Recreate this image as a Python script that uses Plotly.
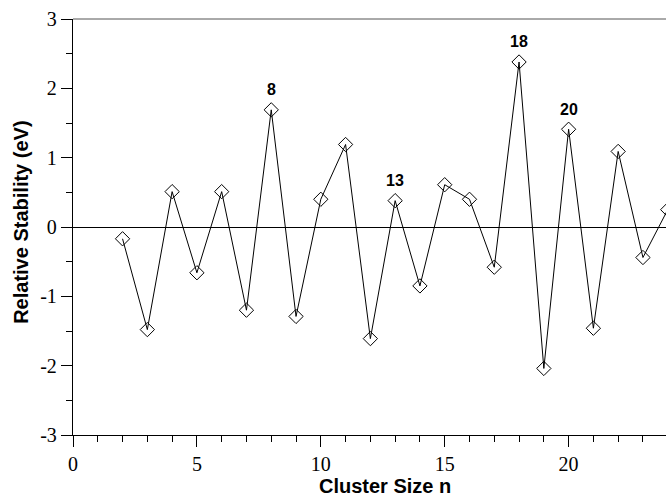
import plotly.graph_objects as go

# Cluster sizes and their relative stabilities (eV)
cluster_size = [2, 3, 4, 5, 6, 7, 8, 9, 10, 11, 12, 13, 14, 15, 16, 17, 18, 19, 20, 21, 22, 23, 24]
relative_stability = [-0.17, -1.48, 0.51, -0.66, 0.51, -1.20, 1.69, -1.29, 0.40, 1.19,
                      -1.61, 0.38, -0.85, 0.61, 0.40, -0.58, 2.38, -2.04, 1.41, -1.46,
                      1.09, -0.44, 0.25]

# Magic-number clusters that get a label above their marker
magic_sizes = [8, 13, 18, 20]

x_ticks = [0, 5, 10, 15, 20]
y_ticks = [-3, -2, -1, 0, 1, 2, 3]

fig = go.Figure()
fig.add_trace(go.Scatter(
    x=cluster_size, y=relative_stability,
    mode="lines+markers",
    line=dict(color="black", width=1),
    marker=dict(symbol="diamond-open", size=11, color="black", line=dict(width=1)),
    showlegend=False,
))

label_font = dict(family="Liberation Sans", size=16, color="black")
for n in magic_sizes:
    v = relative_stability[cluster_size.index(n)]
    fig.add_annotation(
        x=n, y=v, text=f"<b>{n}</b>", showarrow=False,
        yshift=20, font=label_font,
    )

tick_font = dict(family="Liberation Serif", size=20, color="black")

fig.update_xaxes(
    range=[0, 23.93],
    tickmode="array", tickvals=x_ticks, ticktext=[str(t) for t in x_ticks],
    ticks="outside", ticklen=11, tickwidth=1, tickcolor="black",
    minor=dict(dtick=1, ticks="outside", ticklen=6, tickwidth=1, tickcolor="black", showgrid=False),
    showline=True, linecolor="black", linewidth=1.3,
    showgrid=False, zeroline=False,
    tickfont=tick_font,
)
fig.update_yaxes(
    range=[-3, 3],
    tickmode="array", tickvals=y_ticks, ticktext=[str(t) for t in y_ticks],
    ticks="outside", ticklen=11, tickwidth=1, tickcolor="black",
    minor=dict(dtick=0.5, ticks="outside", ticklen=6, tickwidth=1, tickcolor="black", showgrid=False),
    showline=True, linecolor="black", linewidth=1.3,
    showgrid=False, zeroline=True, zerolinecolor="black", zerolinewidth=1.2,
    tickfont=tick_font,
)

# Frame line along the top of the plotting area
fig.add_shape(type="line", xref="paper", yref="paper", x0=0, x1=1, y0=1, y1=1,
              line=dict(color="#555555", width=1))

title_font = dict(family="Liberation Sans", size=20, color="black")
fig.add_annotation(
    xref="paper", yref="paper", x=0.526, y=0, yshift=-51,
    xanchor="center", yanchor="middle", borderpad=0,
    text="<b>Cluster Size n</b>", showarrow=False, font=title_font,
)
fig.add_annotation(
    xref="paper", yref="paper", x=0, xshift=-52, y=0.51,
    xanchor="center", yanchor="middle",
    text="<b>Relative Stability (eV)</b>", showarrow=False, textangle=-90, font=title_font,
)

fig.update_layout(
    width=666, height=499,
    margin=dict(l=73, r=0, t=19, b=64),
    plot_bgcolor="white", paper_bgcolor="white",
)

fig.write_html("out.html")
